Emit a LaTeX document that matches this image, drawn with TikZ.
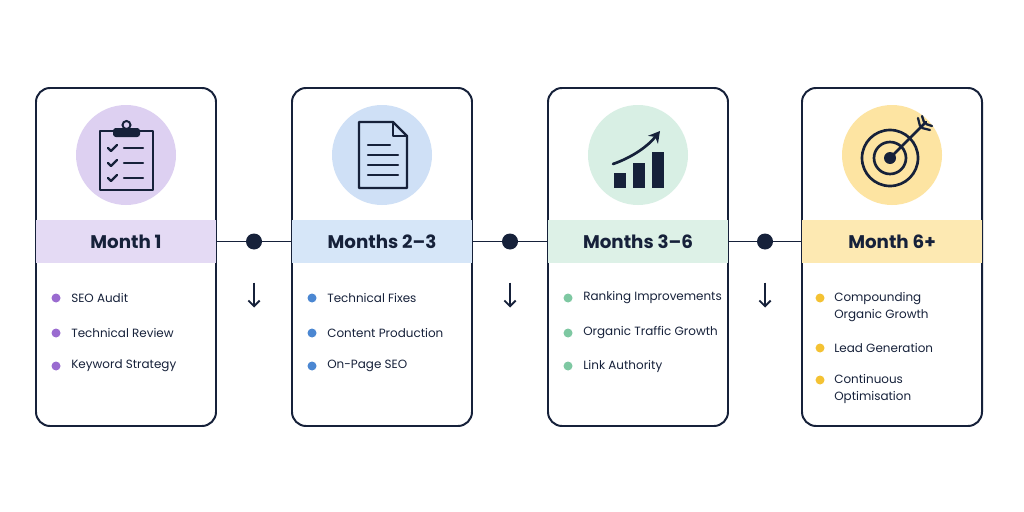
\documentclass[tikz,border=0pt]{standalone}
\usepackage{fontspec}
\setmainfont{Poppins}
\usetikzlibrary{arrows.meta}
\definecolor{navy}{HTML}{16213A}
\definecolor{purpleC}{HTML}{DDD0F1}
\definecolor{purpleB}{HTML}{E4DAF4}
\definecolor{purpleD}{HTML}{9A6BD0}
\definecolor{blueC}{HTML}{CFE0F6}
\definecolor{blueB}{HTML}{D6E6F8}
\definecolor{blueD}{HTML}{4B87D2}
\definecolor{greenC}{HTML}{D8EFE4}
\definecolor{greenB}{HTML}{DDF1E7}
\definecolor{greenD}{HTML}{7EC8A2}
\definecolor{yellowC}{HTML}{FDE4A2}
\definecolor{yellowB}{HTML}{FDE9B2}
\definecolor{yellowD}{HTML}{F4C233}
\begin{document}
\begin{tikzpicture}[
  x=0.025cm, y=-0.025cm,
  card/.style={draw=navy, line width=1.4pt, rounded corners=10pt, minimum width=180*0.025cm, minimum height=338*0.025cm, inner sep=0pt},
  band/.style={minimum width=180*0.025cm, minimum height=43*0.025cm, inner sep=0pt, font=\fontsize{13}{15}\selectfont\bfseries\color{navy}},
  badge/.style={circle, minimum size=100*0.025cm, inner sep=0pt},
  item/.style={anchor=west, inner sep=0pt, align=left, font=\fontsize{8.5}{12.5}\selectfont\color{navy}},
  dot/.style={circle, inner sep=0pt, minimum size=9*0.025cm},
  ico/.style={draw=navy, line width=1.6pt, line cap=round, line join=round}
]
\useasboundingbox[fill=white] (0,0) rectangle (1024,512);

% --- cards with icon badge and header band ---
\foreach \i/\cx/\col/\lbl in {1/126/purple/Month 1, 2/382/blue/Months 2–3, 3/638/green/Months 3–6, 4/892/yellow/Month 6+}{
  \node[card] (c\i) at (\cx,257) {};
  \node[band, fill=\col B] (h\i) at (\cx,241.5) {\lbl};
  \node[badge, fill=\col C] (b\i) at (\cx,155) {};
}

% --- timeline connectors ---
\path (c1.east) -- (c2.west) coordinate[midway] (m1);
\path (c2.east) -- (c3.west) coordinate[midway] (m2);
\path (c3.east) -- (c4.west) coordinate[midway] (m3);
\foreach \i/\j/\k in {1/2/1, 2/3/2, 3/4/3}{
  \draw[navy, line width=1.4pt] (h\i.east) -- (h\j.west);
  \fill[navy] (h\i.east -| m\k) circle (8);
  \coordinate (a\k) at ([yshift=-41*0.025cm]h\i.east -| m\k);
  \coordinate (z\k) at ([yshift=-66*0.025cm]h\i.east -| m\k);
  \draw[navy, line width=1.3pt, -{Straight Barb[length=4pt,width=8pt]}] (a\k) -- (z\k);
}

% --- icons ---
\draw[ico] (100,131) rectangle (153,190);
\fill[navy, rounded corners=2pt] (113,128) rectangle (140,137);
\draw[navy, line width=1.4pt] (126.5,125) circle (4);
\foreach \y in {148,163,178}{
  \draw[ico] (108,\y) -- (111,\y+3) -- (117,\y-3);
  \draw[ico] (124,\y) -- (143,\y);
}
\draw[ico] (359,122) -- (393,122) -- (407,136) -- (407,188) -- (359,188) -- cycle;
\draw[ico] (393,122) -- (393,136) -- (407,136);
\foreach \y/\w in {145/390,155/398,165/398,175/398}{ \draw[ico] (368,\y) -- (\w,\y); }
\fill[navy] (614,173) rectangle (626,188);
\fill[navy] (633,163) rectangle (645,188);
\fill[navy] (652,152) rectangle (664,188);
\draw[ico, line width=1.9pt, -{Stealth[length=8pt,width=9pt]}] (613,164) .. controls (633,157) and (648,146) .. (660,131);
\draw[ico, line width=1.9pt] (890,158) circle (28);
\draw[ico, line width=1.9pt] (890,158) circle (16);
\fill[navy] (890,158) circle (6);
\draw[ico, line width=1.9pt] (890,158) -- (926,122);
\draw[ico] (920,126) -- (918,118); \draw[ico] (922,128) -- (930,130);
\draw[ico] (924,122) -- (922,116); \draw[ico] (926,124) -- (932,126);

% --- bullet lists ---
\foreach \i/\col/\a/\b/\c in {1/purple/SEO Audit/Technical Review/Keyword Strategy,
  2/blue/Technical Fixes/Content Production/On-Page SEO,
  3/green/Ranking Improvements/Organic Traffic Growth/Link Authority}{
  \foreach \t/\y in {\a/298, \b/333, \c/366}{
    \node[dot, fill=\col D] (d\i\y) at ([xshift=21*0.025cm]c\i.west |- 0,\y) {};
    \node[item] (t\i\y) at ([xshift=15*0.025cm]d\i\y.center) {\t};
  }
}
\foreach \t/\y/\yt in {{Compounding\\Organic Growth}/298/307, {Lead Generation}/348/348, {Continuous\\Optimisation}/380/389}{
  \node[dot, fill=yellowD] (d4\y) at ([xshift=19*0.025cm]c4.west |- 0,\y) {};
  \node[item] (t4\y) at ([xshift=33*0.025cm]c4.west |- 0,\yt) {\t};
}
\end{tikzpicture}
\end{document}
